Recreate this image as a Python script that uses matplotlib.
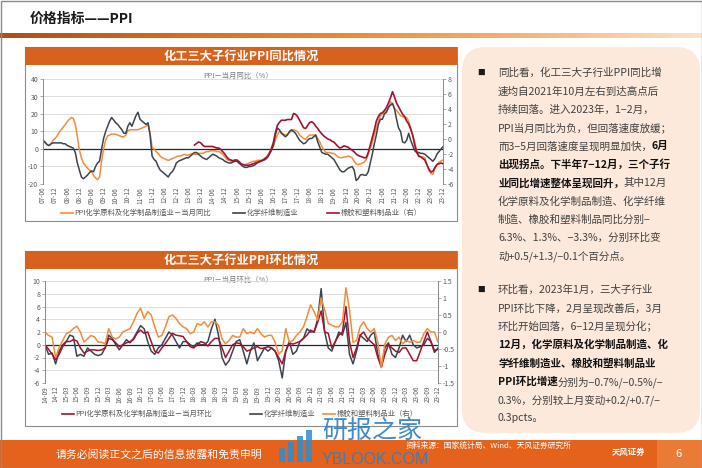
import numpy as np
import pandas as pd
import matplotlib
matplotlib.use('Agg')
import matplotlib.pyplot as plt
from matplotlib.patches import Rectangle, FancyBboxPatch
from matplotlib.colors import LinearSegmentedColormap

plt.rcParams['font.family'] = ['Noto Sans CJK SC', 'DejaVu Sans']
plt.rcParams['axes.unicode_minus'] = False

# ---------------- 数据 ----------------
# 图1: PPI 当月同比, 2007-06 ~ 2023-12
yoy_months = pd.date_range('2007-06-01', '2023-12-01', freq='MS')
chem_yoy = [4.2, 3.5, 2.5, 2.0, 3.0, 5.0, 6.0,
            7.5, 9.5, 11, 12.5, 14, 15.6, 17, 18, 17.5, 14, 7, -0.5,
            -5, -8, -9.5, -11, -12, -13, -15, -16.5, -17.5, -16, -7, 0,
            5, 7.5, 8, 8.5, 8.5, 8.4, 8, 7.5, 7, 7, 8, 10.5,
            11, 11, 11, 11, 11, 11.5, 12, 12.5, 13, 14, 9, 1,
            0, -1.5, -2.5, -4, -5, -5.5, -6, -6.5, -6, -5.5, -5, -4.5,
            -4, -4, -3.5, -3, -3.5, -3.5, -3, -2.5, -3, -3, -2.5, -2.5,
            -2.5, -2, -1.5, -1.5, -1, -1, -1, -1.5, -1.5, -2, -3, -4.5,
            -6, -6.5, -7, -7, -6.5, -7, -8, -8.5, -9, -9, -8.5, -8,
            -7.5, -7, -7, -6.5, -6.5, -6.5, -6, -5, -4, -2, 0, 1.5,
            5, 8, 10, 9.5, 8.5, 8, 8.5, 9.5, 10, 11, 10.5, 10,
            8, 7, 6, 5.5, 7, 8, 8, 8, 8, 6, 4, 1.5,
            -0.5, -2, -2, -2, -2.5, -2.5, -3.5, -4.5, -5, -5, -4.5, -4.5,
            -4, -4.5, -5, -7, -8.5, -9, -8.5, -8, -7.5, -6, -3, 0.4,
            4, 8, 12, 16, 19, 20, 21, 22, 23, 27, 26, 23,
            22, 20.5, 19, 18.5, 18, 18, 16, 12, 8, 4, -1, -3.5,
            -4.5, -4.5, -5, -9, -12, -14, -14.5, -11, -9, -7.5, -6.8, -6.3]
fiber_yoy = [5, 4, 2.5, 2, 3, 3.5, 3.5,
             3.5, 3.5, 3.5, 3, 3, 2, 1.5, 1, 0.5, -2, -8, -12,
             -16, -17, -16, -15, -13.5, -12.5, -13, -10, -8, -7, 0, 6,
             10, 13, 16, 18, 16.5, 15, 14, 12.5, 11, 9, 9, 13,
             15, 13, 16, 19, 21, 17, 16, 15, 14, 15, 8, -4,
             -6, -7, -10, -12, -13, -14, -15, -16, -14, -13, -11, -8,
             -7, -6.5, -6, -5.5, -5, -5, -4, -3, -2, -2, -3, -4,
             -5, -5.5, -6, -5, -4, -3, -3.5, -4, -5, -5.5, -6, -7,
             -7.5, -8, -8, -7.5, -7, -7, -8, -9, -10, -10.5, -10.5, -10,
             -10, -9.5, -9, -8, -7.5, -7, -6.5, -6, -5, -3, -1, 2,
             8, 12, 11, 9, 8, 7, 8, 10, 11, 10, 9, 7,
             5, 4, 3, 3.5, 5, 6, 6, 7, 8, 4, 1, -2,
             -2.5, -3, -3, -4, -5, -6, -8, -10, -12, -13, -13, -12,
             -11, -10.5, -10, -12, -18, -17, -15, -14.5, -15, -15, -13, -8,
             -3, 3, 8, 14, 17, 17, 20, 21, 24, 25, 26, 23,
             17, 12, 10, 4, 3.5, 5, 9, 5, 2, -1, -2, -2,
             -2.5, -2.5, -3, -4, -5, -6, -7, -5.5, -3, -1.5, 0, 1.3]
# 橡胶和塑料制品业(右轴), 2013-09 起
rubber_yoy = [np.nan] * 75 + [
             -0.8, -0.6, -0.4, -0.5,
             -0.8, -1.0, -1.0, -1.0, -1.0, -1.0, -1.1, -1.2, -1.2, -1.4, -1.7, -2.0,
             -2.4, -2.7, -2.8, -2.9, -2.8, -2.8, -3.0, -3.3, -3.4, -3.5, -3.5, -3.5,
             -3.4, -3.3, -3.2, -3.1, -3.0, -2.9, -2.8, -2.6, -2.4, -2.0, -1.3, -0.5,
             0.8, 1.8, 2.2, 2.5, 2.5, 2.5, 2.6, 2.6, 2.6, 3.4, 3.3, 3.0,
             2.5, 2.0, 1.5, 1.4, 1.8, 2.2, 2.3, 2.1, 1.7, 1.4, 1.0, 0.7,
             0.4, 0.2, 0.0, -0.1, -0.3, -0.4, -0.7, -1.0, -1.2, -1.1, -0.9, -1.0,
             -1.1, -1.3, -1.5, -1.7, -2.0, -2.2, -2.3, -2.4, -2.5, -2.5, -1.8, -0.8,
             0.2, 1.2, 2.4, 3.0, 3.4, 3.5, 3.8, 4.2, 4.8, 5.5, 6.3, 5.6,
             4.8, 4.3, 3.8, 3.3, 3.0, 2.4, 2.0, 1.3, 0.5, -0.8, -1.8, -2.3,
             -2.4, -2.6, -2.8, -3.4, -4.0, -4.4, -4.3, -3.8, -3.4, -3.3, -3.2, -3.3]

# 图2: PPI 当月环比, 2014-09 ~ 2023-12
mom_months = pd.date_range('2014-09-01', '2023-12-01', freq='MS')
chem_mom = [0, -0.7, -1.5, -2.3,
            -1.5, -0.3, 0.5, 0.5, 0.8, 0.6, -0.5, -1.3, -1.0, -0.8, -0.8, -0.9,
            -0.8, -0.5, 1.0, 0.8, 0.3, -0.3, 0.0, 0.3, 0.5, 0.8, 1.8, 2.3,
            1.8, 2.0, 0.5, -1.0, -1.3, -0.5, 0.2, 1.0, 1.8, 1.5, 1.4, 1.3,
            0.5, -0.3, -0.5, 0.0, 0.5, 0.3, -0.2, 0.5, 1.0, 1.0, -0.5, -2.0,
            -1.0, 0.0, 0.3, 0.2, -0.3, -1.0, -0.8, -0.5, -0.3, -0.6, -0.5, -0.3,
            -0.5, -1.0, -2.0, -3.0, -1.0, 0.3, 0.1, 0.3, 0.5, 1.0, 1.5, 2.3,
            2.0, 3.5, 5.3, 2.0, 1.8, -0.5, 0.5, 1.5, 2.0, 6.0, 0.5, -2.0,
            -0.5, 1.5, 2.0, 1.0, 0.5, 0.0, -2.0, -3.5, -1.5, 0.0, -0.5, -1.0,
            -1.2, -0.5, -0.5, -1.5, -2.5, -2.5, -1.0, 0.5, 2.0, 0.5, -0.9, -0.7]
fiber_mom = [0, -1.5, -1.3, -3.0,
             -1.0, 0, 0.5, 1.5, 1.3, -1.8, -1.5, -1.8, -0.5, -1.0, -1.5, -1.7,
             -1.5, -0.5, 1.5, 1.0, 0.0, -0.8, 0.0, 0.8, 0.3, 1.0, 2.0, 3.0,
             2.5, 0.5, -1.0, -1.5, -0.5, 0.0, 1.0, 2.0, 1.5, 0.5, -0.5, 0.5,
             0.5, 0.0, -0.3, 0.3, 0.0, 0.0, 0.5, 2.5, 4.0, 1.5, -2.0, -3.2,
             -2.5, -1.0, 0.5, 0.8, -1.0, -3.0, -1.0, 0.3, -2.5, -1.5, -0.5, -1.0,
             -0.5, -1.0, -2.5, -5.2, -1.0, 0.5, -1.5, -1.0, 0.5, 1.0, 2.5, 2.0,
             2.0, 4.0, 8.8, 2.0, -0.5, -1.0, 0.5, 2.0, 1.5, 3.5, -1.5, -3.0,
             -1.0, 1.5, 1.0, 0.5, 1.5, 2.0, -1.5, -3.5, -0.5, 0.3, -1.5, -2.0,
             -0.5, 1.5, 0.5, 1.5, 0.0, -0.5, -0.3, 0.0, 1.0, 0.5, -1.2, -0.5]
rubber_mom = [0.0, -0.1, -0.15, -0.75,
              -0.45, -0.25, -0.05, 0.0, 0.1, 0.17, 0.0, -0.3, -0.2, -0.1, -0.15, -0.3,
              -0.3, -0.35, 0.1, -0.15, -0.2, -0.15, 0.0, 0.05, 0.1, 0.3, 0.55, 0.7,
              0.4, 0.6, 0.5, 0.15, -0.15, -0.1, 0.15, 0.45, 0.5, 0.4, 0.25, 0.15,
              0.1, -0.05, 0.0, 0.25, 0.2, 0.3, 0.15, 0.3, 0.3, 0.2, -0.2, -0.35,
              -0.25, -0.1, -0.15, -0.15, 0.1, -0.05, 0.0, -0.05, 0.1, -0.05, -0.15, -0.1,
              -0.1, -0.3, -0.65, -0.55, 0.1, -0.3, -0.25, -0.1, 0.0, 0.15, 0.45, 0.8,
              0.6, 0.35, 1.0, 0.65, 0.25, 0.2, 0.15, 0.15, 0.3, 1.3, 0.65, -0.3,
              -0.25, 0.15, 0.3, 0.1, 0.0, 0.1, -0.3, -1.05, -0.35, -0.15, -0.1, -0.25,
              -0.15, -0.35, -0.25, -0.3, -0.25, -0.3, -0.3, -0.05, 0.1, 0.0, 0.0, -0.3]

ORANGE = '#F28C3C'
GRAY = '#3A4550'
RED = '#A3122E'
TXT = '#404040'

# ---------------- 画布 ----------------
W, H = 702, 468
fig = plt.figure(figsize=(W / 100, H / 100), dpi=100)
bg = fig.add_axes([0, 0, 1, 1], zorder=-1)
bg.set_xlim(0, W)
bg.set_ylim(H, 0)
bg.axis('off')


def px_axes(x0, y0, x1, y1):
    return [x0 / W, 1 - y1 / H, (x1 - x0) / W, (y1 - y0) / H]


# 页眉
bg.text(30, 19, '价格指标——PPI', fontsize=10, fontweight='bold', color='#1a1a1a', va='center')
grad = LinearSegmentedColormap.from_list('g', ['#A9501C', '#D96A1E', '#EE8A32', '#F5B47A', '#FBE3CC'])
bg.imshow(np.linspace(0, 1, 256)[None, :], cmap=grad, extent=(0, W, 38, 33), aspect='auto')

# 页脚
bg.add_patch(Rectangle((0, 440), W, 28, color='#E4621C', lw=0))
bg.add_patch(Rectangle((657, 440), 45, 28, color='#EA7B36', lw=0))
bg.text(56, 454, '请务必阅读正文之后的信息披露和免责申明', fontsize=7.8, color='white', va='center')
bg.text(406, 446, '资料来源：国家统计局、Wind、天风证券研究所', fontsize=5.6, color='white', va='center')
bg.text(612, 452, '天风证券', fontsize=6, color='white', fontweight='bold', va='center')
bg.text(679, 454, '6', fontsize=8, color='white', va='center', ha='center')
# 水印
for i, hh in enumerate([14, 20, 26, 32]):
    bg.add_patch(Rectangle((279 + i * 9, 462 - hh), 6, hh, color='#2C8ED0', alpha=0.85, lw=0))
bg.text(322, 431, '研报之家', fontsize=18, color='#2C7FC4', alpha=0.9, va='center')
bg.text(322, 460, 'YBLOOK.COM', fontsize=11.5, color='#2C7FC4', alpha=0.9, va='center',
        family=['Liberation Sans', 'DejaVu Sans'])

# 外框
bg.add_patch(Rectangle((0.5, 0.5), W - 1, H - 1, fill=False, ec='#8A8A8A', lw=1))

# 图框与标题条
for (y0, y1, title) in [(47, 221, '化工三大子行业PPI同比情况'), (251, 426, '化工三大子行业PPI环比情况')]:
    bg.add_patch(Rectangle((25, y0), 432, y1 - y0, fc='white', ec='#8C8C8C', lw=0.8))
    bg.add_patch(Rectangle((25, y0), 432, 18, color='#D6621D', lw=0))
    bg.text(241, y0 + 9.5, title, fontsize=8.8, fontweight='bold', color='white', ha='center', va='center')

# 右侧文字面板
bg.add_patch(FancyBboxPatch((462, 47), 238, 386, boxstyle='round,pad=0,rounding_size=24',
                            fc='#FCE9DB', ec='none'))

bullet1 = [
    [('同比看，化工三大子行业PPI同比增', False)],
    [('速均自2021年10月左右到达高点后', False)],
    [('持续回落。进入2023年，1−2月，', False)],
    [('PPI当月同比为负，但回落速度放缓；', False)],
    [('而3−5月回落速度呈现明显加快，', False), ('6月', True)],
    [('出现拐点。下半年7−12月，三个子行', True)],
    [('业同比增速整体呈现回升，', True), ('其中12月', False)],
    [('化学原料及化学制品制造、化学纤维', False)],
    [('制造、橡胶和塑料制品同比分别−', False)],
    [('6.3%、1.3%、−3.3%，分别环比变', False)],
    [('动+0.5/+1.3/−0.1个百分点。', False)],
]
bullet2 = [
    [('环比看，2023年1月，三大子行业', False)],
    [('PPI环比下降，2月呈现改善后，3月', False)],
    [('环比开始回落，6−12月呈现分化；', False)],
    [('12月，化学原料及化学制品制造、化', True)],
    [('学纤维制造业、橡胶和塑料制品业', True)],
    [('PPI环比增速', True), ('分别为−0.7%/−0.5%/−', False)],
    [('0.3%，分别较上月变动+0.2/+0.7/−', False)],
    [('0.3pcts。', False)],
]

renderer = fig.canvas.get_renderer()
LS = 18.35
for lines, ytop in [(bullet1, 73), (bullet2, 290)]:
    bg.text(481, ytop, '■', fontsize=5.5, color='#1a1a1a', ha='center', va='center')
    for k, segs in enumerate(lines):
        x = 498
        y = ytop + k * LS
        for s, bold in segs:
            t = bg.text(x, y, s, fontsize=7.6, va='center',
                        fontweight='bold' if bold else 'normal',
                        color='#111111' if bold else TXT)
            x += t.get_window_extent(renderer).width


def style(ax, axr, nx):
    for a in (ax, axr):
        a.set_facecolor('none')
        for s in ('top', 'bottom'):
            a.spines[s].set_visible(False)
        a.spines['left'].set_color('#8C8C8C')
        a.spines['right'].set_color('#8C8C8C')
        a.spines['left'].set_linewidth(0.7)
        a.spines['right'].set_linewidth(0.7)
        a.tick_params(axis='y', labelsize=5, labelcolor='#595959', length=2, width=0.5,
                      color='#8C8C8C', pad=1.5)
    ax.yaxis.grid(True, color='#D9D9D9', lw=0.6)
    ax.set_axisbelow(True)
    ax.axhline(0, color='#262626', lw=0.9, zorder=1)
    ax.set_xlim(0, nx - 1)
    ax.tick_params(axis='x', length=0, labelsize=4.6, labelcolor='#595959', pad=2)


# ---------------- 图1 同比 ----------------
ax1 = fig.add_axes(px_axes(43, 79, 443, 184))
ax1r = ax1.twinx()
x1 = np.arange(len(yoy_months))
ax1.plot(x1, chem_yoy, color=ORANGE, lw=1.1, zorder=3)
ax1.plot(x1, fiber_yoy, color=GRAY, lw=1.1, zorder=3)
ax1r.plot(x1, rubber_yoy, color=RED, lw=1.2, zorder=4)
ax1.set_ylim(-20, 40)
ax1.set_yticks(range(-20, 41, 10))
ax1r.set_ylim(-6, 8)
ax1r.set_yticks(range(-6, 9, 2))
style(ax1, ax1r, len(x1))
t1 = x1[::6]
ax1.set_xticks(t1)
ax1.set_xticklabels([yoy_months[i].strftime('%y-%m') for i in t1], rotation=90)

bg.text(238, 76, 'PPI－当月同比（%）', fontsize=5.3, color='#7F7F7F', ha='center', va='center')

# ---------------- 图2 环比 ----------------
ax2 = fig.add_axes(px_axes(45, 281, 438, 383))
ax2r = ax2.twinx()
x2 = np.arange(len(mom_months))
ax2.plot(x2, chem_mom, color=RED, lw=1.1, zorder=4)
ax2.plot(x2, fiber_mom, color=GRAY, lw=1.1, zorder=3)
ax2r.plot(x2, rubber_mom, color=ORANGE, lw=1.1, zorder=2)
ax2.set_ylim(-6, 10)
ax2.set_yticks(range(-6, 11, 2))
ax2r.set_ylim(-1.5, 1.5)
ax2r.set_yticks([-1.5, -1, -0.5, 0, 0.5, 1, 1.5])
ax2r.set_yticklabels(['-1.5', '-1', '-0.5', '0', '0.5', '1', '1.5'])
style(ax2, ax2r, len(x2))
t2 = x2[::3]
ax2.set_xticks(t2)
ax2.set_xticklabels([mom_months[i].strftime('%y-%m') for i in t2], rotation=90)
ax1r.set_zorder(ax1.get_zorder() + 1)
ax2r.set_zorder(ax2.get_zorder() + 1)

bg.text(238, 280, 'PPI－当月环比（%）', fontsize=5.3, color='#7F7F7F', ha='center', va='center')

# ---------------- 图例 ----------------
leg1 = [(ORANGE, 61, 'PPI化学原料及化学制品制造业－当月同比'), (GRAY, 233, '化学纤维制造业'),
        (RED, 327, '橡胶和塑料制品业（右）')]
leg2 = [(RED, 62, 'PPI化学原料及化学制品制造业－当月环比'), (GRAY, 250, '化学纤维制造业'),
        (ORANGE, 323, '橡胶和塑料制品业（右）')]
for items, yl in [(leg1, 213), (leg2, 414)]:
    for c, xl, lab in items:
        bg.plot([xl, xl + 12], [yl, yl], color=c, lw=1.2)
        bg.text(xl + 13.5, yl, lab, fontsize=5.3, color='#595959', va='center')

bg.set_xlim(0, W)
bg.set_ylim(H, 0)
fig.savefig('out.png', dpi=100)
